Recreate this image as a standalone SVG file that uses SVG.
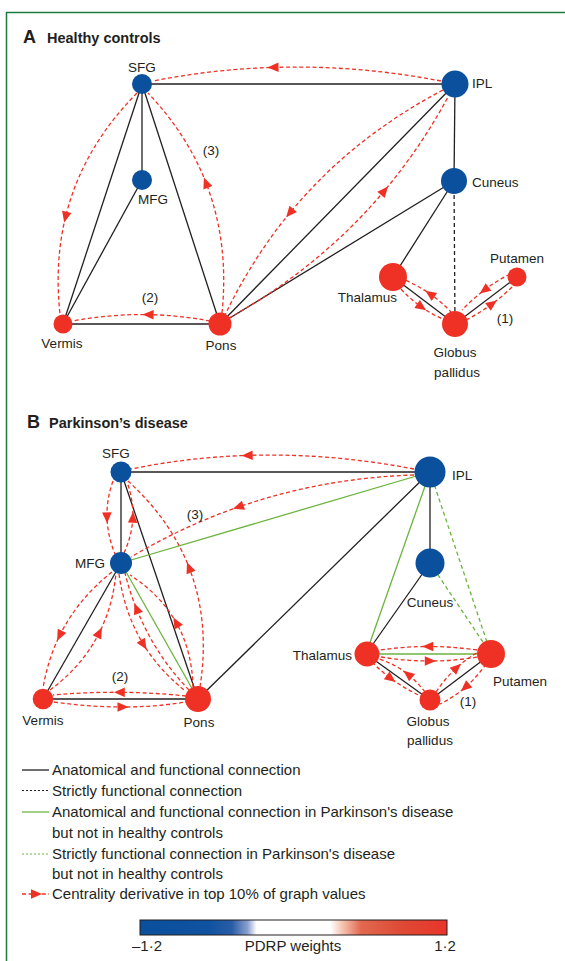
<svg xmlns="http://www.w3.org/2000/svg" width="565" height="961" viewBox="0 0 565 961">
<defs>
<style>
.e{stroke:#231f20;stroke-width:1.3;fill:none}
.ed{stroke:#231f20;stroke-width:1.3;fill:none;stroke-dasharray:4 3}
.g{stroke:#6cb33f;stroke-width:1.3;fill:none}
.gd{stroke:#6cb33f;stroke-width:1.3;fill:none;stroke-dasharray:4 3}
.r{stroke:#ee3124;stroke-width:1.3;fill:none;stroke-dasharray:4 2.6;marker-mid:url(#ah)}
.nb{fill:#0b509c}
.nr{fill:#ee3124}
text{font-family:"Liberation Sans",Arial,sans-serif;fill:#231f20}
.l{font-size:13.5px}
.c{text-anchor:middle}
.end{text-anchor:end}
.h1{font-size:18px;font-weight:bold}
.h2{font-size:14.5px;font-weight:bold}
.lg{font-size:15px}
</style>
<marker id="ah" viewBox="-6 -5 12 10" markerWidth="12" markerHeight="10" markerUnits="userSpaceOnUse" orient="auto" refX="0" refY="0">
<path d="M-5,-4.8 L6,0 L-5,4.8 z" fill="#ee3124"/>
</marker>
<linearGradient id="pdrp" x1="0" y1="0" x2="1" y2="0">
<stop offset="0" stop-color="#0a4f9c"/>
<stop offset="0.22" stop-color="#0e52a0"/>
<stop offset="0.30" stop-color="#2a5da6"/>
<stop offset="0.35" stop-color="#8a9fcd"/>
<stop offset="0.38" stop-color="#ffffff"/>
<stop offset="0.62" stop-color="#ffffff"/>
<stop offset="0.66" stop-color="#f5c4b0"/>
<stop offset="0.72" stop-color="#e2684f"/>
<stop offset="0.85" stop-color="#de4a35"/>
<stop offset="1" stop-color="#e9342a"/>
</linearGradient>
</defs>
<rect width="565" height="961" fill="#ffffff"/>
<path d="M565,12.5 H6.5 V961" fill="none" stroke="#1b7b3e" stroke-width="1.5"/>

<g id="titleA">
<text class="h1" x="23" y="43">A</text>
<text class="h2" x="47" y="43">Healthy controls</text>
</g>

<g id="connectorsA">
<line class="e" x1="142" y1="84" x2="455" y2="84"/>
<line class="e" x1="142" y1="84" x2="142" y2="180"/>
<line class="e" x1="142" y1="84" x2="63" y2="324"/>
<line class="e" x1="142" y1="84" x2="220" y2="324"/>
<line class="e" x1="142" y1="180" x2="63" y2="324"/>
<line class="e" x1="63" y1="324" x2="220" y2="324"/>
<line class="e" x1="455" y1="84" x2="220" y2="324"/>
<line class="e" x1="455" y1="84" x2="454" y2="181"/>
<line class="e" x1="454" y1="181" x2="220" y2="324"/>
<line class="e" x1="454" y1="181" x2="393" y2="277"/>
<line class="ed" x1="454" y1="181" x2="455" y2="324"/>
<line class="e" x1="393" y1="277" x2="455" y2="324"/>
<line class="e" x1="455" y1="324" x2="517" y2="277"/>
<path class="r" d="M441,81 Q356.9,64.8 273.5,67.4 Q213.1,69.2 153,81"/>
<path class="r" d="M137,93 Q82.4,148.2 65.6,216.7 Q54.4,262.4 60,314"/>
<path class="r" d="M222,313 Q229.2,242.6 206.1,183.1 Q187.2,134.4 148,93"/>
<path class="r" d="M210,321 Q179.4,315.2 148.6,314.6 Q111,313.9 73,321"/>
<path class="r" d="M443,90 Q351.9,137.7 290,212.7 Q252,258.8 225,315"/>
<path class="r" d="M229,318 Q319.9,267.4 384.2,191 Q420.3,148.1 448,97"/>
<path class="r" d="M452,313 Q442.1,302.4 430.3,294.1 Q418.6,285.9 405,280"/>
<path class="r" d="M401,289 Q410.2,299.2 421.2,306.9 Q432.2,314.7 445,320"/>
<path class="r" d="M510,274 Q496.5,281 484.5,290 Q472.5,299 462,310"/>
<path class="r" d="M466,320 Q479.8,313 492,304 Q504.3,295 515,284"/>
</g>

<g id="A-SFG"><circle class="nb" cx="142" cy="84" r="10"/><text class="l c" x="142" y="72">SFG</text></g>
<g id="A-IPL"><circle class="nb" cx="455" cy="84" r="13.5"/><text class="l" x="472" y="88">IPL</text></g>
<g id="A-MFG"><circle class="nb" cx="142" cy="180" r="10"/><text class="l" x="138" y="204">MFG</text></g>
<g id="A-Cuneus"><circle class="nb" cx="454" cy="181" r="13"/><text class="l" x="472" y="187">Cuneus</text></g>
<g id="A-Vermis"><circle class="nr" cx="63" cy="324" r="9.5"/><text class="l c" x="62" y="348">Vermis</text></g>
<g id="A-Pons"><circle class="nr" cx="220" cy="324" r="11.5"/><text class="l c" x="221" y="350">Pons</text></g>
<g id="A-Thalamus"><circle class="nr" cx="393" cy="277" r="14"/><text class="l end" x="397" y="302">Thalamus</text></g>
<g id="A-GP"><circle class="nr" cx="455" cy="324" r="13"/><text class="l c" x="455" y="357">Globus</text><text class="l c" x="457" y="377">pallidus</text></g>
<g id="A-Putamen"><circle class="nr" cx="517" cy="277" r="9.5"/><text class="l c" x="517" y="263">Putamen</text></g>
<g id="A-loops"><text class="l c" x="505" y="323">(1)</text><text class="l c" x="150" y="302">(2)</text><text class="l c" x="211" y="155">(3)</text></g>

<g id="titleB">
<text class="h1" x="27" y="428">B</text>
<text class="h2" x="49" y="428">Parkinson’s disease</text>
</g>

<g id="connectorsB">
<line class="e" x1="121" y1="472" x2="430" y2="472"/>
<line class="e" x1="121" y1="472" x2="121" y2="563"/>
<line class="e" x1="121" y1="472" x2="198" y2="699"/>
<line class="e" x1="121" y1="563" x2="43" y2="699"/>
<line class="e" x1="43" y1="699" x2="198" y2="699"/>
<line class="e" x1="198" y1="699" x2="430" y2="472"/>
<line class="e" x1="430" y1="472" x2="430" y2="563"/>
<line class="e" x1="430" y1="563" x2="366" y2="654"/>
<line class="e" x1="366" y1="654" x2="430" y2="700"/>
<line class="e" x1="430" y1="700" x2="491" y2="654"/>
<line class="g" x1="121" y1="563" x2="430" y2="472"/>
<line class="g" x1="121" y1="563" x2="198" y2="699"/>
<line class="g" x1="430" y1="472" x2="366" y2="654"/>
<line class="g" x1="366" y1="654" x2="491" y2="654"/>
<line class="gd" x1="430" y1="472" x2="491" y2="654"/>
<line class="gd" x1="430" y1="563" x2="491" y2="654"/>
<path class="r" d="M414,469 Q329.3,452.8 247.7,455.4 Q188.5,457.2 131,469"/>
<path class="r" d="M414,475 Q322.2,478 238.7,506.9 Q183,526.2 131,557"/>
<path class="r" d="M113,481 Q106.5,499 107,517.3 Q107.5,535.5 115,554"/>
<path class="r" d="M124,553 Q132,535.5 132.8,517.8 Q133.5,500 127,482"/>
<path class="r" d="M200,687 Q210.1,621.8 189.2,567.9 Q170.8,520 128,481"/>
<path class="r" d="M112,572 Q77.9,598.9 59.8,635.3 Q47.8,659.6 43,688"/>
<path class="r" d="M50,690 Q82.5,665.9 99.2,632.9 Q112.9,605.9 116,573"/>
<path class="r" d="M189,690 Q154.7,654.3 136.6,608.8 Q129.6,591.9 125,573"/>
<path class="r" d="M119,574 Q124.4,612.9 143.4,644.4 Q159,669.6 184,690"/>
<path class="r" d="M193,687 Q192.1,650.7 176.3,622.7 Q160.6,594.7 130,575"/>
<path class="r" d="M186,696 Q153,692.5 119.8,692.3 Q86.5,692 53,695"/>
<path class="r" d="M54,702 Q89.5,707 122.5,707 Q155.5,707 186,702"/>
<path class="r" d="M477,650 Q452.5,646.5 428.3,646.5 Q404,646.5 380,650"/>
<path class="r" d="M381,657 Q405.5,661 429.8,661 Q454,661 478,657"/>
<path class="r" d="M372,662 Q380.8,671 390.7,678.4 Q405.6,689.4 423,697"/>
<path class="r" d="M425,692 Q417.5,682 408.2,674.5 Q394.2,663.3 376,658"/>
<path class="r" d="M436,692 Q445.1,678.3 456.6,667.8 Q468.1,657.3 482,650"/>
<path class="r" d="M486,664 Q476.9,677.2 465.4,687.2 Q453.9,697.2 440,704"/>
</g>

<g id="B-SFG"><circle class="nb" cx="121" cy="472" r="10.5"/><text class="l c" x="116" y="458">SFG</text></g>
<g id="B-IPL"><circle class="nb" cx="430" cy="472" r="15.5"/><text class="l" x="452" y="480">IPL</text></g>
<g id="B-MFG"><circle class="nb" cx="121" cy="563" r="11"/><text class="l end" x="105" y="568">MFG</text></g>
<g id="B-Cuneus"><circle class="nb" cx="430" cy="563" r="14.5"/><text class="l c" x="430" y="607">Cuneus</text></g>
<g id="B-Vermis"><circle class="nr" cx="43" cy="699" r="10.3"/><text class="l c" x="43" y="725">Vermis</text></g>
<g id="B-Pons"><circle class="nr" cx="198" cy="699" r="13"/><text class="l c" x="199" y="727">Pons</text></g>
<g id="B-Thalamus"><circle class="nr" cx="367" cy="654" r="12.5"/><text class="l end" x="352" y="660">Thalamus</text></g>
<g id="B-Putamen"><circle class="nr" cx="491" cy="654" r="14"/><text class="l" x="493" y="686">Putamen</text></g>
<g id="B-GP"><circle class="nr" cx="430" cy="700" r="10.5"/><text class="l c" x="428" y="726">Globus</text><text class="l c" x="430" y="745">pallidus</text></g>
<g id="B-loops"><text class="l c" x="468" y="706">(1)</text><text class="l c" x="120" y="681">(2)</text><text class="l c" x="195" y="519">(3)</text></g>

<g id="legend">
<line class="e" x1="22" y1="770" x2="49" y2="770"/>
<text class="lg" x="52" y="775">Anatomical and functional connection</text>
<line x1="22" y1="790.5" x2="49" y2="790.5" stroke="#231f20" stroke-width="1.2" stroke-dasharray="2 2"/>
<text class="lg" x="52" y="796">Strictly functional connection</text>
<line class="g" x1="22" y1="812" x2="49" y2="812"/>
<text class="lg" x="52" y="817">Anatomical and functional connection in Parkinson's disease</text>
<text class="lg" x="52" y="838">but not in healthy controls</text>
<line x1="22" y1="854" x2="49" y2="854" stroke="#6cb33f" stroke-width="1.2" stroke-dasharray="2 2"/>
<text class="lg" x="52" y="859">Strictly functional connection in Parkinson's disease</text>
<text class="lg" x="52" y="879">but not in healthy controls</text>
<path class="r" d="M22,894 L36,894 L49,894"/>
<text class="lg" x="52" y="899">Centrality derivative in top 10% of graph values</text>
</g>

<g id="colorbar">
<rect x="140" y="920" width="307" height="15" fill="url(#pdrp)" stroke="#231f20" stroke-width="1"/>
<text class="lg c" x="147" y="951">–1·2</text>
<text class="lg c" x="293" y="951">PDRP weights</text>
<text class="lg c" x="445" y="951">1·2</text>
</g>
</svg>
